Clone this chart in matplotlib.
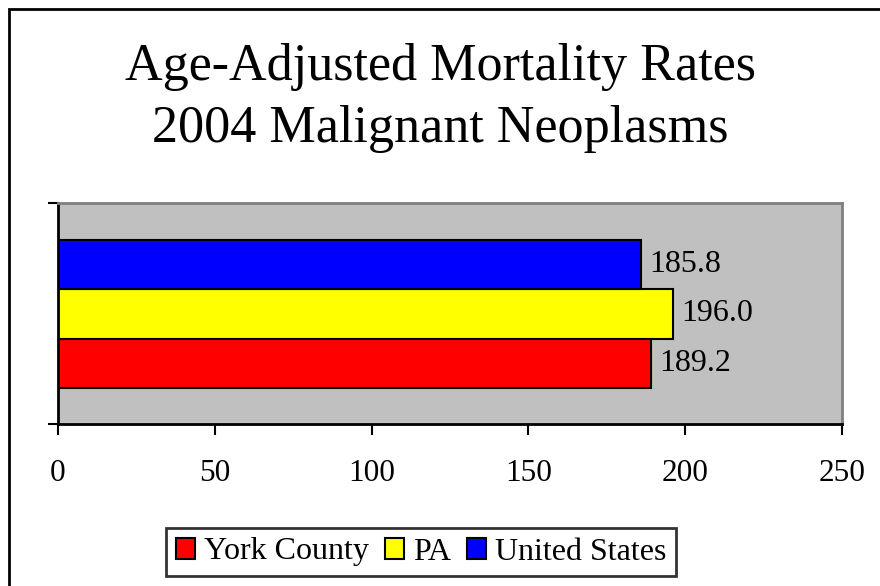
import matplotlib
matplotlib.use("Agg")
import matplotlib.pyplot as plt
from matplotlib.patches import Rectangle

# data
series = ["York County", "PA", "United States"]
rates = [189.2, 196.0, 185.8]
colors = ["#FF0000", "#FFFF00", "#0000FF"]
xticks = [0, 50, 100, 150, 200, 250]
title_lines = ["Age-Adjusted Mortality Rates", "2004 Malignant Neoplasms"]

plt.rcParams['font.family'] = ['Liberation Serif', 'DejaVu Serif']

W, H = 880, 586
fig = plt.figure(figsize=(W / 100, H / 100), dpi=100)

# outer chart border (left + top visible, rest runs off the image)
fig.patches.append(Rectangle((8.5 / W, -0.05), 2.0, 1 - 8.5 / H + 0.05,
                             transform=fig.transFigure, fill=False,
                             edgecolor='black', linewidth=2))

ax = fig.add_axes([58 / W, 1 - 424 / H, 784 / W, 221 / H])
ax.set_facecolor("#C0C0C0")

bars = []
for i, (name, val, col) in enumerate(zip(series, rates, colors)):
    b = ax.barh(i, val, height=1.0, color=col, edgecolor='black',
                linewidth=1.5, label=name)
    bars.append(b)
    ax.bar_label(b, labels=[f"{val:.1f}"], padding=6, fontsize=23)

ax.set_xlim(0, 250)
ax.set_ylim(-1.24, 3.26)
ax.set_xticks(xticks)
ax.set_xticklabels([str(t) for t in xticks], fontsize=22.5)
ax.set_yticks([-1.24, 3.26])
ax.set_yticklabels(["", ""])
ax.tick_params(axis='x', direction='out', length=8, width=1.5, pad=17.5)
ax.tick_params(axis='y', direction='out', length=7, width=1.5)

for side in ['left', 'bottom']:
    ax.spines[side].set_color('black')
    ax.spines[side].set_linewidth(2)
for side in ['top', 'right']:
    ax.spines[side].set_color('#808080')
    ax.spines[side].set_linewidth(2)

# title, one text per line so the baselines sit where they do in the original
for line, base in zip(title_lines, [80, 142]):
    fig.text(0.5, 1 - base / H, line, ha='center', va='baseline', fontsize=37.5)

leg = fig.legend(handles=bars, labels=series, loc='center',
                 bbox_to_anchor=(421 / W, 1 - 552 / H), ncol=3,
                 fontsize=23, frameon=True, fancybox=False,
                 handlelength=0.6, handleheight=0.65, handletextpad=0.28,
                 columnspacing=0.5, borderpad=0.3, borderaxespad=0)
leg.get_frame().set_edgecolor('black')
leg.get_frame().set_linewidth(2)

fig.savefig("out.png", dpi=100)
